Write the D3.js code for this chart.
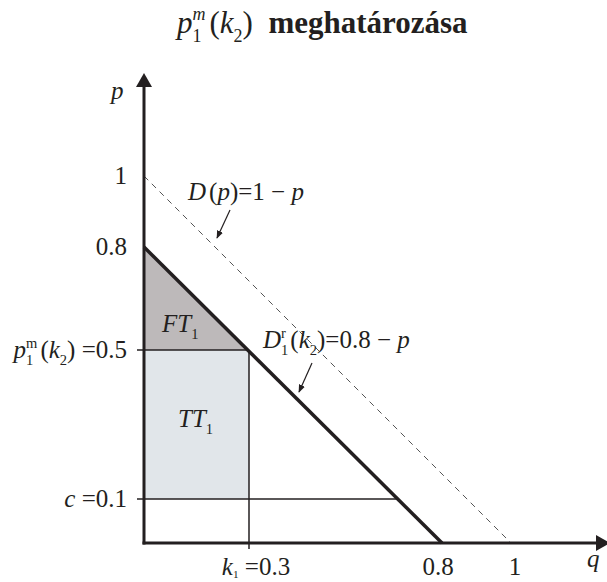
<!DOCTYPE html>
<html>
<head>
<meta charset="utf-8">
<script src="https://cdn.jsdelivr.net/npm/d3@7"></script>
<style>
  html, body { margin: 0; padding: 0; background: #fff; }
  svg text { font-family: "Liberation Serif", "Times New Roman", serif; fill: #231f20; white-space: pre; }
</style>
</head>
<body>
<svg id="chart" width="607" height="582"></svg>
<script>
// ---------- data ----------
const qDomain = [0, 0.3, 0.8, 1];          // schematic q breakpoints
const pDomain = [0, 0.1, 0.5, 0.8, 1];     // schematic p breakpoints
const k1 = 0.3;
const pm = 0.5;
const cVal = 0.1;
const demandD = [[0, 1], [1, 0]];          // D(p) = 1 - p   [q, p]
const demandDr = [[0, 0.8], [0.8, 0]];     // D1r(k2) = 0.8 - p
const ftRegion = [[0, 0.8], [0, 0.5], [0.3, 0.5]];
const ttRegion = [[0, 0.5], [0.3, 0.5], [0.3, 0.1], [0, 0.1]];
const pTickValues = [1, 0.8, 0.5, 0.1];
const qTickValues = [0.3, 0.8, 1];

// ---------- layout ----------
const svg = d3.select("#chart");
const x = d3.scaleLinear().domain(qDomain).range([144, 249, 442, 511]);
const y = d3.scaleLinear().domain(pDomain).range([543, 499, 350, 247, 176]);
const ink = "#231f20";

// rich text helper
function rich(g, px, py, pieces, size, anchor) {
  const grp = g.append("g");
  let cx = 0, prevW = 0;
  pieces.forEach(p => {
    const s = size * (p.scale || 1);
    const t = grp.append("text")
      .attr("y", (p.shift || 0) * size)
      .style("font-size", s + "px")
      .style("font-style", p.i ? "italic" : "normal")
      .style("font-weight", p.b ? "bold" : "normal")
      .text(p.t);
    const w = t.node().getComputedTextLength();
    if (p.stack) {
      const sx = cx - prevW;
      t.attr("x", sx);
      cx = Math.max(cx, sx + w);
    } else {
      cx += (p.dx || 0);
      t.attr("x", cx);
      cx += w;
      prevW = w;
    }
  });
  const off = anchor === "end" ? -cx : anchor === "middle" ? -cx / 2 : 0;
  grp.attr("transform", `translate(${px + off},${py})`);
  return grp;
}
const SUB = { scale: 0.58, shift: 0.28 };
const SUP = { scale: 0.58, shift: -0.42, stack: true };

// ---------- regions ----------
const line = d3.line().x(d => x(d[0])).y(d => y(d[1]));
svg.append("path").attr("d", line(ftRegion) + "Z").attr("fill", "#bdb9ba").attr("stroke", "none");
svg.append("path").attr("d", line(ttRegion) + "Z").attr("fill", "#e1e6ea").attr("stroke", "none");

// ---------- guide lines ----------
const drA = [x(demandDr[0][0]), y(demandDr[0][1])], drB = [x(demandDr[1][0]), y(demandDr[1][1])];
const cy = y(cVal);
const cEndX = drA[0] + (cy - drA[1]) * (drB[0] - drA[0]) / (drB[1] - drA[1]);
svg.append("line").attr("x1", x(0) - 7).attr("x2", x(k1)).attr("y1", y(pm)).attr("y2", y(pm))
  .attr("stroke", ink).attr("stroke-width", 1.5);
svg.append("line").attr("x1", x(0) - 7).attr("x2", cEndX).attr("y1", cy).attr("y2", cy)
  .attr("stroke", ink).attr("stroke-width", 1.5);
svg.append("line").attr("x1", x(k1)).attr("x2", x(k1)).attr("y1", y(pm)).attr("y2", y(0) + 6)
  .attr("stroke", ink).attr("stroke-width", 1.5);

// dashed D(p)
svg.append("path").attr("d", line(demandD)).attr("fill", "none")
  .attr("stroke", "#555").attr("stroke-width", 1).attr("stroke-dasharray", "6,5");
// thick D1r
svg.append("path").attr("d", line(demandDr)).attr("fill", "none")
  .attr("stroke", ink).attr("stroke-width", 3.5);

// ---------- axes ----------
svg.append("line").attr("x1", x(0)).attr("x2", x(0)).attr("y1", y(0) + 1.5).attr("y2", 86)
  .attr("stroke", ink).attr("stroke-width", 3);
svg.append("path").attr("d", `M${x(0)},73 L${x(0) - 8},87 L${x(0) + 8},87 Z`).attr("fill", ink);
svg.append("line").attr("x1", x(0) - 1.5).attr("x2", 598).attr("y1", y(0)).attr("y2", y(0))
  .attr("stroke", ink).attr("stroke-width", 3);
svg.append("path").attr("d", `M610,${y(0)} L596,${y(0) - 8} L596,${y(0) + 8} Z`).attr("fill", ink);

// axis titles
rich(svg, 111, 99, [{ t: "p", i: true }], 25, "start");
rich(svg, 587, 567, [{ t: "q", i: true }], 25, "start");

// ---------- tick labels ----------
const FS = 25;
const pLabels = {
  1: [{ t: "1" }],
  0.8: [{ t: "0.8" }],
  0.5: [{ t: "p", i: true }, { t: "1", ...SUB }, { t: "m", ...SUP }, { t: "(", dx: 3 }, { t: "k", i: true }, { t: "2", ...SUB }, { t: ")" }, { t: " =0.5" }],
  0.1: [{ t: "c", i: true }, { t: " =0.1" }]
};
pTickValues.forEach(v => rich(svg, 127, y(v) + 8, pLabels[v], FS, "end"));

const qLabels = {
  0.3: [{ t: "k", i: true }, { t: "1", scale: 0.45, shift: 0.12 }, { t: " =0.3" }],
  0.8: [{ t: "0.8" }],
  1: [{ t: "1" }]
};
const qNudge = { 0.3: 7, 0.8: -4, 1: 4 };
qTickValues.forEach(v => rich(svg, x(v) + qNudge[v], 575, qLabels[v], FS, "middle"));

// ---------- region labels ----------
rich(svg, 162, 332, [{ t: "FT", i: true }, { t: "1", ...SUB }], 25, "start");
rich(svg, 178, 427, [{ t: "TT", i: true }, { t: "1", ...SUB }], 25, "start");

// ---------- annotations ----------
rich(svg, 188, 200, [{ t: "D", i: true }, { t: "(", dx: 3 }, { t: "p", i: true }, { t: ")" }, { t: "=1 − " }, { t: "p", i: true }], 25, "start");
rich(svg, 263, 348, [{ t: "D", i: true }, { t: "1", ...SUB }, { t: "r", ...SUP }, { t: "(", dx: 2 }, { t: "k", i: true }, { t: "2", ...SUB }, { t: ")" }, { t: "=0.8 − " }, { t: "p", i: true }], 25, "start");

const defs = svg.append("defs");
defs.append("marker").attr("id", "ah").attr("viewBox", "0 0 10 10").attr("refX", 9).attr("refY", 5)
  .attr("markerWidth", 8).attr("markerHeight", 8).attr("orient", "auto").attr("markerUnits", "userSpaceOnUse")
  .append("path").attr("d", "M0,1 L10,5 L0,9 Z").attr("fill", ink);
svg.append("line").attr("x1", 230).attr("y1", 210).attr("x2", 217).attr("y2", 238)
  .attr("stroke", ink).attr("stroke-width", 1.2).attr("marker-end", "url(#ah)");
svg.append("line").attr("x1", 312).attr("y1", 363).attr("x2", 299).attr("y2", 392)
  .attr("stroke", ink).attr("stroke-width", 1.2).attr("marker-end", "url(#ah)");

// ---------- title ----------
rich(svg, 177, 33, [{ t: "p", i: true }, { t: "1", ...SUB }, { t: "m", i: true, ...SUP }, { t: "(", dx: 4 }, { t: "k", i: true }, { t: "2", ...SUB }, { t: ")" }, { t: "  meghatározása", b: true }], 31, "start");
</script>
</body>
</html>
